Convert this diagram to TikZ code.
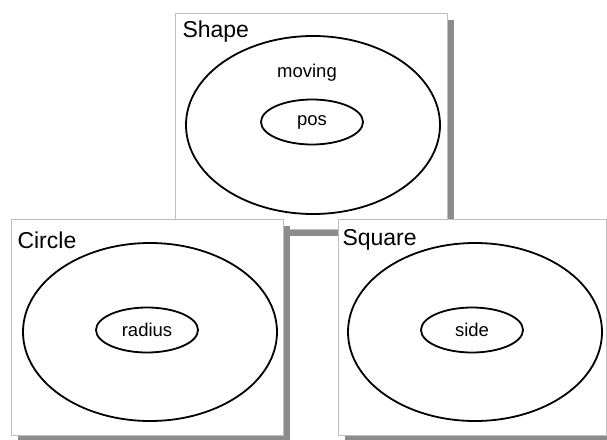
\documentclass[tikz,border=0pt]{standalone}
\usepackage{fontspec}
\setmainfont{Liberation Sans}
\usetikzlibrary{positioning,shapes.geometric,shadows}
\definecolor{clsEdge}{RGB}{190,190,190}
\definecolor{clsShadow}{RGB}{140,140,140}

\begin{document}
\begin{tikzpicture}[
  x=1pt, y=-1pt,
  classbox/.style={draw=clsEdge, line width=0.9pt, fill=white, minimum width=272pt, minimum height=216pt, inner sep=0pt,
    drop shadow={shadow xshift=7pt, shadow yshift=-7pt, fill=clsShadow, opacity=1}},
  title/.style={anchor=west, font=\fontsize{23}{25}\selectfont},
  outer/.style={ellipse, draw, line width=1.8pt, minimum width=254pt, minimum height=178pt, inner sep=0pt},
  field/.style={ellipse, draw, line width=1.8pt, minimum width=102pt, minimum height=45pt, inner sep=0pt, font=\fontsize{18.5}{20}\selectfont},
  lbl/.style={font=\fontsize{18.5}{20}\selectfont},
]
\useasboundingbox (0,0) rectangle (607,439);
% base class
\node[classbox] (shape) at (311,121) {};
\node[title] (shapeT) at (179,32) {Shape};
\node[outer] (shapeO) at (313,125) {};
\node[lbl] (moving) at (307,73) {moving};
\node[field] (pos) at (312,122) {pos};
% sub classes
\node[classbox] (circle) at (147,327) {};
\node[title] (circleT) at (14,240) {Circle};
\node[outer] (circleO) at (150,332) {};
\node[field] (radius) at (147,330) {radius};
\node[classbox, minimum width=268pt] (square) at (472,327) {};
\node[title] (squareT) at (339,240) {Square};
\node[outer] (squareO) at (475,332) {};
\node[field] (side) at (472,330) {side};
\end{tikzpicture}
\end{document}
